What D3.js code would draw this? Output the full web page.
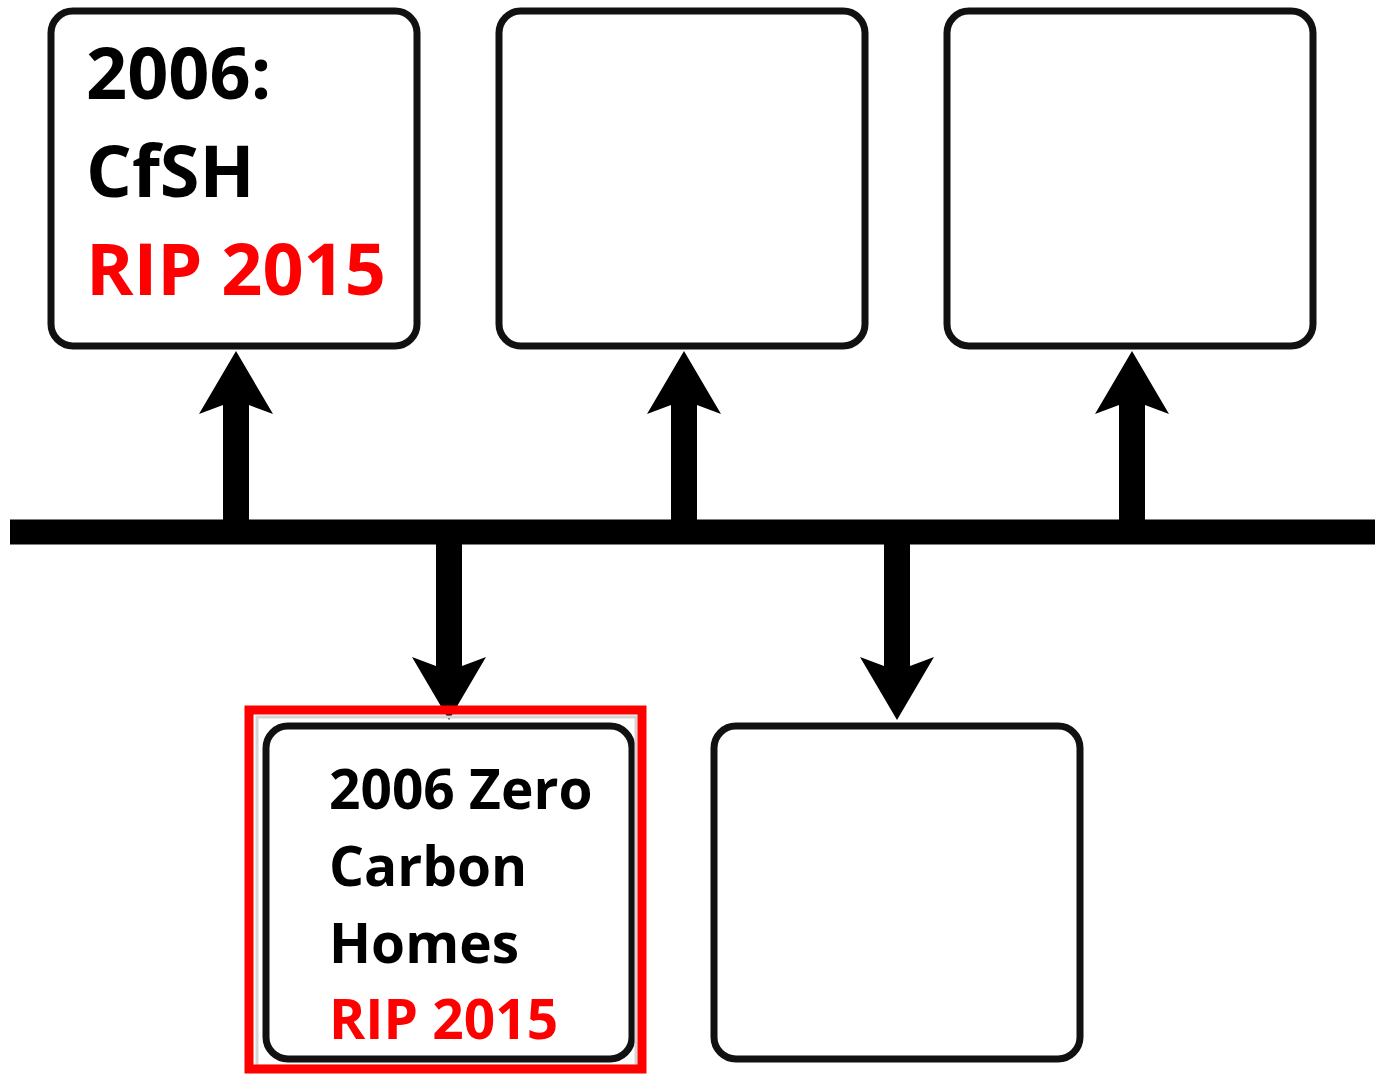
<!DOCTYPE html>
<html>
<head>
<meta charset="utf-8">
<script src="https://cdn.jsdelivr.net/npm/d3@7"></script>
<style>
  body { margin: 0; background: #fff; }
  text { font-family: "Open Sans", Lato, sans-serif; font-weight: bold; }
</style>
</head>
<body>
<div id="timeline"></div>
<script>
// Timeline content
var topEvents = ["cfsh", "top2", "top3"];
var topLines = [["2006:", "CfSH"], [], []];
var topRip = ["RIP 2015", "", ""];

var bottomEvents = ["zch", "bottom2"];
var bottomLines = [["2006 Zero", "Carbon", "Homes"], []];
var bottomRip = ["RIP 2015", ""];
var bottomHighlight = [true, false];

var svgWidth = 1377;
var svgHeight = 1075;

var svg = d3.select("#timeline")
    .append("svg")
    .attr("width", svgWidth)
    .attr("height", svgHeight);

// scales for where the arrows meet the timeline
var xTop = d3.scalePoint().domain(topEvents).range([236, 1132]);
var xBottom = d3.scalePoint().domain(bottomEvents).range([449, 897]);

var barY = 532;
var boxW = 366;
var topBox = { y: 11, h: 335 };
var bottomBox = { y: 726, h: 333 };

// arrow shape: shaft + notched head
function arrow(cx, tipY, dir) {
  var shaft = 13, head = 37, len = 63, notch = 9;
  var wingY = tipY + dir * len;
  var notchY = wingY - dir * notch;
  return "M" + (cx - shaft) + "," + barY +
    "L" + (cx - shaft) + "," + notchY +
    "L" + (cx - head) + "," + wingY +
    "L" + cx + "," + tipY +
    "L" + (cx + head) + "," + wingY +
    "L" + (cx + shaft) + "," + notchY +
    "L" + (cx + shaft) + "," + barY + "Z";
}

// Step 1: arrows
svg.selectAll("path.up")
  .data(topEvents)
  .enter()
  .append("path")
  .attr("class", "up")
  .attr("d", d => arrow(xTop(d), 351, 1))
  .attr("fill", "#000");

svg.selectAll("path.down")
  .data(bottomEvents)
  .enter()
  .append("path")
  .attr("class", "down")
  .attr("d", d => arrow(xBottom(d), 720, -1))
  .attr("fill", "#000");

// Step 2: the timeline bar
svg.append("rect")
  .attr("x", 10)
  .attr("y", barY - 12.5)
  .attr("width", 1365)
  .attr("height", 25)
  .attr("fill", "#000");

// Step 3: boxes
svg.selectAll("rect.topBox")
  .data(topEvents)
  .enter()
  .append("rect")
  .attr("class", "topBox")
  .attr("x", d => xTop(d) - 185)
  .attr("y", topBox.y)
  .attr("width", boxW)
  .attr("height", topBox.h)
  .attr("rx", 22)
  .attr("fill", "#fff")
  .attr("stroke", "#111")
  .attr("stroke-width", 7);

svg.selectAll("rect.bottomBox")
  .data(bottomEvents)
  .enter()
  .append("rect")
  .attr("class", "bottomBox")
  .attr("x", d => xBottom(d) - 183)
  .attr("y", bottomBox.y)
  .attr("width", boxW)
  .attr("height", bottomBox.h)
  .attr("rx", 22)
  .attr("fill", "#fff")
  .attr("stroke", "#111")
  .attr("stroke-width", 7);

// Step 4: labels
topEvents.forEach(function(d, i) {
  var x = xTop(d) - 150;
  topLines[i].forEach(function(line, j) {
    svg.append("text")
      .attr("x", x)
      .attr("y", 99 + j * 98)
      .attr("font-size", 72)
      .attr("fill", "#000")
      .text(line);
  });
  if (topRip[i]) {
    svg.append("text")
      .attr("x", x)
      .attr("y", 99 + topLines[i].length * 98)
      .attr("font-size", 72)
      .attr("fill", "#ff0000")
      .text(topRip[i]);
  }
});

bottomEvents.forEach(function(d, i) {
  var x = xBottom(d) - 120;
  bottomLines[i].forEach(function(line, j) {
    svg.append("text")
      .attr("x", x)
      .attr("y", 809 + j * 77)
      .attr("font-size", 55)
      .attr("fill", "#000")
      .text(line);
  });
  if (bottomRip[i]) {
    svg.append("text")
      .attr("x", x)
      .attr("y", 809 + bottomLines[i].length * 76.5)
      .attr("font-size", 55)
      .attr("fill", "#ff0000")
      .text(bottomRip[i]);
  }
});

// Step 5: red highlight frame
bottomEvents.forEach(function(d, i) {
  if (!bottomHighlight[i]) return;
  var cx = xBottom(d);
  svg.append("rect")
    .attr("x", cx - 192)
    .attr("y", 717)
    .attr("width", 379)
    .attr("height", 349)
    .attr("fill", "none")
    .attr("stroke", "#d4d4d4")
    .attr("stroke-width", 3);
  svg.append("rect")
    .attr("x", cx - 200)
    .attr("y", 710)
    .attr("width", 393)
    .attr("height", 359)
    .attr("fill", "none")
    .attr("stroke", "#ff0000")
    .attr("stroke-width", 9);
});
</script>
</body>
</html>
